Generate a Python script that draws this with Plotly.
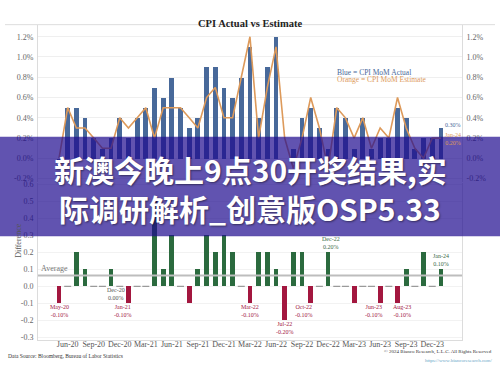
import numpy as np
import plotly.graph_objects as go

months = ["May-20", "Jun-20", "Jul-20", "Aug-20", "Sep-20", "Oct-20", "Nov-20", "Dec-20",
          "Jan-21", "Feb-21", "Mar-21", "Apr-21", "May-21", "Jun-21", "Jul-21", "Aug-21",
          "Sep-21", "Oct-21", "Nov-21", "Dec-21", "Jan-22", "Feb-22", "Mar-22", "Apr-22",
          "May-22", "Jun-22", "Jul-22", "Aug-22", "Sep-22", "Oct-22", "Nov-22", "Dec-22",
          "Jan-23", "Feb-23", "Mar-23", "Apr-23", "May-23", "Jun-23", "Jul-23", "Aug-23",
          "Sep-23", "Oct-23", "Nov-23", "Dec-23", "Jan-24"]

actual = [-0.1, 0.5, 0.5, 0.4, 0.2, 0.1, 0.2, 0.4,
          0.2, 0.4, 0.5, 0.7, 0.6, 0.8, 0.5, 0.3,
          0.4, 0.9, 0.9, 0.7, 0.6, 0.8, 1.1, 0.4,
          0.9, 1.2, 0.0, 0.1, 0.4, 0.5, 0.3, 0.1,
          0.5, 0.4, 0.1, 0.4, 0.1, 0.2, 0.2, 0.5,
          0.4, 0.1, 0.2, 0.2, 0.3]

estimate = [0.0, 0.5, 0.3, 0.3, 0.2, 0.1, 0.1, 0.4,
            0.3, 0.4, 0.5, 0.2, 0.5, 0.5, 0.5, 0.4,
            0.3, 0.6, 0.7, 0.4, 0.4, 0.8, 1.2, 0.2,
            0.7, 1.1, 0.2, -0.1, 0.2, 0.6, 0.3, -0.1,
            0.5, 0.4, 0.2, 0.4, 0.1, 0.3, 0.2, 0.6,
            0.3, 0.1, 0.0, 0.2, 0.2]

difference = [-0.1, 0.0, 0.2, 0.1, 0.0, 0.0, 0.1, 0.0,
              -0.1, 0.0, 0.0, 0.5, 0.1, 0.3, 0.0, -0.1,
              0.1, 0.3, 0.2, 0.3, 0.2, 0.0, -0.1, 0.2,
              0.2, 0.1, -0.2, 0.2, 0.2, -0.1, 0.0, 0.2,
              0.0, 0.0, -0.1, 0.0, 0.0, -0.1, 0.0, -0.1,
              0.1, 0.0, 0.2, 0.0, 0.1]

tick_labels = ["Jun-20", "Sep-20", "Dec-20", "Mar-21", "Jun-21", "Sep-21", "Dec-21", "Mar-22",
               "Jun-22", "Sep-22", "Dec-22", "Mar-23", "Jun-23", "Sep-23", "Dec-23"]

top_ticks = [-0.2, 0.0, 0.2, 0.4, 0.6, 0.8, 1.0, 1.2]
bottom_ticks = [-0.3, -0.2, -0.1, 0.0, 0.1, 0.2, 0.3, 0.4, 0.5, 0.6]

labelled_months = ["May-20", "Dec-20", "Jan-21", "Mar-22", "Jul-22", "Oct-22", "Dec-22",
                   "Jun-23", "Aug-23", "Jan-24"]
# horizontal nudges (px) of the difference labels, as in the reference
label_nudge = {"Dec-20": -4, "Jan-21": -5, "Oct-22": -7, "Dec-22": 3, "Jun-23": -6, "Aug-23": 4}

idx = np.arange(len(months))
act = np.array(actual)
est = np.array(estimate)
dif = np.array(difference)

BLUE = "#48699a"
ORANGE = "#dd9a5b"
GREEN = "#2b6a3e"
RED = "#a3173f"
SERIF = "Liberation Serif"

fig = go.Figure()

# top panel
fig.add_trace(go.Bar(x=idx, y=act, marker=dict(color=BLUE, line=dict(width=0)),
                     width=0.55, xaxis="x", yaxis="y", showlegend=False))
fig.add_trace(go.Scatter(x=idx, y=est, mode="lines", line=dict(color=ORANGE, width=1.6),
                         xaxis="x", yaxis="y", showlegend=False))
fig.add_trace(go.Scatter(x=idx, y=est, mode="lines", line=dict(width=0), opacity=0,
                         xaxis="x", yaxis="y3", showlegend=False, hoverinfo="skip"))

# bottom panel
nz = dif != 0
bar_colors = [GREEN if d > 0 else RED for d in dif[nz]]
fig.add_trace(go.Bar(x=idx[nz], y=dif[nz], marker=dict(color=bar_colors, line=dict(width=0)),
                     width=0.55, xaxis="x2", yaxis="y2", showlegend=False))
fig.add_trace(go.Scatter(x=idx[~nz], y=dif[~nz], mode="markers",
                         marker=dict(symbol="line-ew", size=5, line=dict(width=1.2, color="#9a9a9a")),
                         xaxis="x2", yaxis="y2", showlegend=False))

xr = [-2.42, 46.43]
tickpos = [months.index(t) for t in tick_labels]
axis_font = dict(family=SERIF, size=8, color="#666")
top_text = [f"{v:.1f}%" for v in top_ticks]
bottom_text = [f"{v:.1f}" for v in bottom_ticks]

fig.update_layout(
    width=500, height=375,
    margin=dict(l=0, r=0, t=0, b=0),
    paper_bgcolor="white", plot_bgcolor="white",
    bargap=0,
    xaxis=dict(domain=[0.076, 0.924], range=xr, showticklabels=False, showgrid=False,
               zeroline=False, anchor="y", ticks=""),
    yaxis=dict(domain=[0.5147, 0.9413], range=[-0.234, 1.319], tickvals=top_ticks, ticktext=top_text,
               tickfont=axis_font, showgrid=True, gridcolor="#efefef",
               zeroline=False, showline=True, linecolor="#dcdcdc", linewidth=1, anchor="x",
               ticks="", ticklen=0, ticklabelstandoff=2),
    yaxis3=dict(overlaying="y", side="right", range=[-0.234, 1.319],
                tickvals=top_ticks, ticktext=top_text,
                tickfont=axis_font, showgrid=False, zeroline=False, showline=True, linecolor="#dcdcdc",
                anchor="x", ticks="", ticklen=0, ticklabelstandoff=2),
    xaxis2=dict(domain=[0.076, 0.924], range=xr, tickvals=tickpos, ticktext=tick_labels,
                tickfont=dict(family=SERIF, size=8, color="#555"), showgrid=False, zeroline=False,
                showline=True, linecolor="#dcdcdc", anchor="y2", ticks="", ticklen=0,
                ticklabelstandoff=-3),
    yaxis2=dict(domain=[0.088, 0.512], range=[-0.312, 0.607], tickvals=bottom_ticks, ticktext=bottom_text,
                tickfont=axis_font, showgrid=True, gridcolor="#f2f2f2", zeroline=False,
                showline=True, linecolor="#dcdcdc", mirror=True, anchor="x2", ticks="", ticklen=0,
                ticklabelstandoff=2),
)

avg = float(np.mean(dif))
shapes = [
    dict(type="line", xref="paper", yref="paper", x0=0.01, x1=0.99, y0=0.9413, y1=0.9413,
         line=dict(color="#dddddd", width=1)),
    dict(type="line", xref="x2 domain", yref="y2", x0=0, x1=1, y0=avg, y1=avg,
         line=dict(color="#bdbdbd", width=2)),
    dict(type="rect", xref="paper", yref="paper", x0=0, x1=1, y0=1 - 237 / 375, y1=1 - 136 / 375,
         fillcolor="rgb(30,10,143)", opacity=0.7, line=dict(width=0), layer="above"),
]
fig.update_layout(shapes=shapes)

ann = []
ann.append(dict(text="<b>CPI Actual vs Estimate</b>", xref="paper", yref="paper", x=0.5, y=1 - 13 / 375,
                showarrow=False, font=dict(family=SERIF, size=10.5, color="#222")))
ann.append(dict(text="Blue = CPI MoM Actual", xref="paper", yref="paper", x=335 / 500, y=1 - 64 / 375,
                xanchor="left", showarrow=False, font=dict(family=SERIF, size=7.5, color=BLUE)))
ann.append(dict(text="Orange = CPI MoM Estimate", xref="paper", yref="paper", x=335 / 500, y=1 - 71.5 / 375,
                xanchor="left", showarrow=False, font=dict(family=SERIF, size=7.5, color=ORANGE)))
last = len(months) - 1
ann.append(dict(text=f"{act[last]:.2f}%", xref="x", yref="y", x=last, y=act[last], xshift=12, yshift=3,
                showarrow=False, font=dict(family=SERIF, size=6, color=BLUE)))
ann.append(dict(text=f"{months[last]}<br>{est[last]:.2f}%", xref="x", yref="y", x=last, y=est[last],
                xshift=12, yshift=-1, showarrow=False, font=dict(family=SERIF, size=6, color=ORANGE)))

ann.append(dict(text="Difference", xref="paper", yref="paper", x=12 / 500, y=1 - 261 / 375, textangle=-90,
                showarrow=False, font=dict(family=SERIF, size=8, color="#555")))
ann.append(dict(text="Average", xref="x2 domain", yref="y2", x=0.003, y=avg, xanchor="left", yanchor="bottom",
                showarrow=False, font=dict(family=SERIF, size=8, color="#777")))

for m in labelled_months:
    i = months.index(m)
    d = dif[i]
    col = RED if d < 0 else ("#3a6a48" if d > 0 else "#555")
    above = d > 0
    ann.append(dict(text=f"{m}<br>{d:.2f}%", xref="x2", yref="y2", x=i, y=d,
                    xshift=label_nudge.get(m, 0),
                    yanchor="bottom" if above else "top", yshift=0 if above else 1,
                    showarrow=False, font=dict(family=SERIF, size=6, color=col)))

ann.append(dict(text="Data Source: Bloomberg, Bureau of Labor Statistics", xref="paper", yref="paper",
                x=6 / 500, y=1 - 364 / 375, xanchor="left", showarrow=False,
                font=dict(family=SERIF, size=5.5, color="#333")))
ann.append(dict(text="© 2024 Bianco Research, L.L.C. All Rights Reserved", xref="paper", yref="paper",
                x=494 / 500, y=1 - 360 / 375, xanchor="right", showarrow=False,
                font=dict(family=SERIF, size=5, color="#333")))
ann.append(dict(text="https://www.biancoresearch.com/", xref="paper", yref="paper",
                x=494 / 500, y=1 - 367.5 / 375, xanchor="right", showarrow=False,
                font=dict(family=SERIF, size=5, color="#6aa8c8")))

banner_font = dict(family="Noto Sans CJK SC", size=30, color="white", weight="bold",
                   shadow="1px 1px 2px rgba(0,0,0,0.45)")
ann.append(dict(text="新澳今晚上9点30开奖结果,实", xref="paper", yref="paper", x=0.5, y=1 - 169 / 375,
                showarrow=False, font=banner_font))
ann.append(dict(text="际调研解析_创意版OSP5.33", xref="paper", yref="paper", x=0.5, y=1 - 208 / 375,
                showarrow=False, font=banner_font))

fig.update_layout(annotations=ann)
fig.write_html("out.html", config={"displayModeBar": False},
               post_script="document.body.style.margin='0';document.body.style.overflow='hidden';")
